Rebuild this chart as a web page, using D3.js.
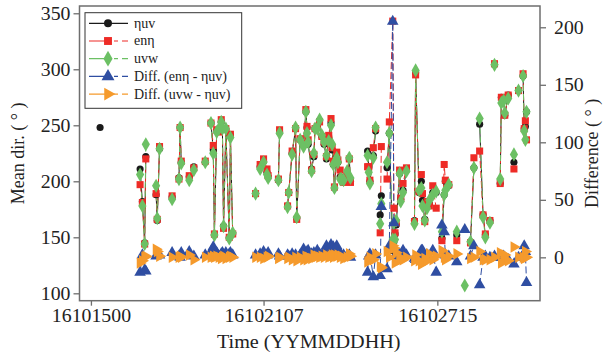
<!DOCTYPE html>
<html>
<head>
<meta charset="utf-8">
<script src="https://cdn.jsdelivr.net/npm/d3@7"></script>
<style>
  body { margin: 0; background: #fff; }
  svg text { font-family: "Liberation Serif", "Times New Roman", serif; fill: #222; }
</style>
</head>
<body>
<svg id="chart" width="612" height="356"></svg>
<script>
// time stamps (YYMMDDHH)
const times = [
  "16101508","16101619","16101621","16101623","16101700","16101709","16101710","16101712","16101723",
  "16101805","16101806","16101807","16101814","16101818",
  "16101904","16101909","16101911","16101912","16101914","16101916","16101918","16101919","16101920","16101922","16102001","16102002","16102004",
  "16102100","16102104","16102107","16102110","16102111","16102120","16102121","16102204","16102205","16102208","16102211","16102212",
  "16102215","16102218","16102220","16102221","16102222","16102301","16102303","16102304","16102306","16102308","16102310","16102312",
  "16102314","16102316","16102318","16102319","16102320","16102321","16102323","16102400","16102402","16102403","16102405","16102408","16102410","16102411",
  "16102502","16102503","16102504","16102507","16102509","16102513","16102514","16102519","16102521",
  "16102600","16102601","16102602","16102603","16102606","16102607","16102609","16102612","16102619","16102620","16102623",
  "16102701","16102702","16102704","16102706","16102708","16102711","16102714","16102719","16102721","16102722",
  "16102801","16102808","16102815","16102820","16102823",
  "16102904","16102907","16102909","16102913","16102917","16102922","16102923",
  "16103001","16103002","16103005","16103010","16103014","16103018","16103019","16103020","16103021"
];
const etaUV = [
  248, 211, 182, 145, 222, 188, 165, 229, 186,
  203, 248, 217, 204, 213,
  217, 252, 228, 152, 245, 246, 253, 247, 160, 246, 150, 241, 153,
  189, 213, 218, 208, 204, 201, 244, 178, 190, 225, 247, 167,
  237, 233, 262, 248, 233, 211, 222, 247, 248, 254, 240, 233,
  220, 238, 252, 228, 215, 194, 222, 217, 204, 202, 200, 206, 220, 200,
  227, 212, 200, 223, 245, 170, 187, 212, 243,
  138, 146, 153, 161, 207, 184, 192, 210, 165, 297, 190,
  200, 183, 166, 180, 180, 190, 190, 149, 188, 200,
  196, 152, null, 146, 212,
  251, 170, 152, 165, 304, 198, 275,
  273, 259, 277, 217, 281, 294, 247, 249, 262
];
const enEta = [
  null, 197, 181, 144, 220, 189, 166, 231, 187,
  202, 248, 218, 205, 212,
  218, 252, 232, 153, 246, 244, 255, 247, 158, 247, 150, 242, 153,
  189, 215, 220, 211, 205, 202, 246, 178, 190, 227, 247, 166,
  238, 234, 264, 249, 237, 210, 224, 247, 249, 253, 240, 235,
  222, 241, 256, 230, 218, 195, 226, 219, 210, 203, 199, 205, 220, 199,
  213, 213, 201, 230, 247, 154, 231, 202, 253,
  343, 176, 154, 163, 210, 185, 198, 212, 164, 295, 191,
  206, 189, 164, 182, 178, 196, 176, 147, 215, 201,
  197, 147, null, 145, 221,
  227, 170, 153, 165, 305, 198, 275,
  274, 259, 277, 211, 281, 296, 247, 254, 237
];
const uvw = [
  null, 206, 178, 144, 233, 196, 167, 229, 184,
  202, 248, 216, 201, 210,
  217, 252, 225, 152, 244, 247, 253, 247, 160, 247, 149, 239, 154,
  189, 211, 217, 206, 203, 201, 243, 177, 190, 224, 248, 168,
  237, 231, 262, 243, 235, 209, 225, 247, 247, 255, 241, 235,
  223, 236, 250, 233, 215, 194, 221, 217, 202, 202, 201, 209, 221, 203,
  223, 208, 198, 221, 248, 162, 180, 217, 243,
  148, 163, 148, 165, 207, 182, 190, 209, 162, 299, 192,
  194, 178, 165, 176, 183, 188, 191, 155, 188, 192,
  197, 155, 107, 146, 212,
  256, 168, 150, 163, 304, 202, 270,
  272, 261, 274, 224, 281, 294, 245, 237, 262
];
const diffEnEta = [
  null, -13, 2, -11, -12, 1, 3, 2, 4,
  1, 0, 4, 5, 1,
  2, 5, 9, 3, 4, 1, 3, 4, 2, 4, 3, 4, 2,
  2, 3, 5, 2, 4, 3, 1, 2, 1, 3, 2, 0,
  2, 7, 3, 5, 6, 3, 4, 2, 6, 3, 2, 4,
  10, 7, 11, 6, 9, 4, 10, 4, 3, 2, 2, 1, 2, 0,
  -13, 1, 3, -17, 2, -16, 44, -10, 10,
  205, 30, 1, 2, 3, 1, 6, 2, -1, -2, 1,
  6, 6, -2, 2, -2, 6, -13, 28, 22, 2,
  1, -4, 24, 1, 10,
  -24, 0, 1, 0, 1, 0, 0,
  1, 0, -2, -6, 0, 2, 10, 5, -22
];
const diffUvw = [
  null, -5, -3, 0, 1, 7, 5, 1, 0,
  0, 1, 0, 2, -2,
  0, 0, 1, 0, 1, 0, -1, 0, 1, -1, 0, 1, 0,
  0, 0, -1, 0, 1, -1, 0, -1, 0, -2, 0, -3,
  0, -2, 1, -2, 0, -1, 2, 0, 1, 0, 1, 0,
  2, 0, 1, 2, 0, 2, 1, 2, 0, 1, -1, 0, 3, 1,
  -4, -3, 0, -2, 3, -8, -9, 5, 0,
  10, 8, -5, 4, 0, -2, -2, 0, -3, 2, -3,
  -6, -5, -1, -3, 3, -2, 1, 6, 0, -2,
  1, 3, null, -1, 0,
  5, -2, -2, -2, 0, 4, -5,
  -1, 2, -3, 9, 0, 0, -1, 5, 0
];
const xTicks = ["16101500", "16102107", "16102715"];
const yTicksLeft = [100, 150, 200, 250, 300, 350];
const yTicksRight = [0, 50, 100, 150, 200];

const parse = d3.utcParse("%y%m%d%H");
const fmt = d3.utcFormat("%y%m%d%H");
const rows = times.map((t, i) => ({
  t: parse(t), a: etaUV[i], b: enEta[i], c: uvw[i], d: diffEnEta[i], e: diffUvw[i]
}));

const svg = d3.select("#chart");
const mLeft = 79.5, mRight = 540, mTop = 6, mBottom = 300.7;
const hour = 3600e3;
const t0 = parse("16101500");

const x = d3.scaleUtc()
  .domain([new Date(+t0 - 10 * hour), new Date(+t0 + 392.8 * hour)])
  .range([mLeft, mRight]);
const yL = d3.scaleLinear().domain([93.4, 356.5]).range([mBottom, mTop]);
const yR = d3.scaleLinear().domain([-37.7, 218.5]).range([mBottom, mTop]);

const series = [
  { key: "a", label: "ηuv", color: "#1a1a1a", dash: null, sym: d3.symbolCircle, size: 40, rot: 0, y: yL },
  { key: "b", label: "enη", color: "#ee2b26", dash: "7,3", sym: d3.symbolSquare, size: 50, rot: 0, y: yL },
  { key: "c", label: "uvw", color: "#6cc064", dash: "6,3", sym: d3.symbolDiamond, size: 58, rot: 0, y: yL },
  { key: "d", label: "Diff. (enη - ηuv)", color: "#2f4ea2", dash: "7,3", sym: d3.symbolTriangle, size: 58, rot: 0, y: yR },
  { key: "e", label: "Diff. (uvw - ηuv)", color: "#f59a2c", dash: "5,2,2,2", sym: d3.symbolTriangle, size: 58, rot: 90, y: yR }
];

// split into runs of points no more than 3 hours apart
function segments(key) {
  const segs = [];
  let cur = [];
  rows.forEach(r => {
    if (r[key] == null) { if (cur.length) segs.push(cur); cur = []; return; }
    if (cur.length && (r.t - cur[cur.length - 1].t) > 3 * hour) { segs.push(cur); cur = []; }
    cur.push(r);
  });
  if (cur.length) segs.push(cur);
  return segs;
}

// horizontal text in the original is a little wider than the font
function stretch(sel, k) {
  sel.each(function () {
    const w = this.getComputedTextLength();
    this.setAttribute("textLength", w * k);
    this.setAttribute("lengthAdjust", "spacingAndGlyphs");
  });
}

const plot = svg.append("g");

series.forEach(s => {
  const line = d3.line().x(r => x(r.t)).y(r => s.y(r[s.key]));
  plot.append("g").selectAll("path")
    .data(segments(s.key).filter(g => g.length > 1))
    .enter().append("path")
    .attr("d", line)
    .attr("fill", "none")
    .attr("stroke", s.color)
    .attr("stroke-width", 1)
    .attr("stroke-dasharray", s.dash);
});

series.forEach(s => {
  const sym = d3.symbol().type(s.sym).size(s.size);
  plot.append("g").selectAll("path")
    .data(rows.filter(r => r[s.key] != null))
    .enter().append("path")
    .attr("d", sym)
    .attr("transform", r => `translate(${x(r.t)},${s.y(r[s.key])}) rotate(${s.rot})`)
    .attr("fill", s.color);
});

// axes
const axisColor = "#6e6e6e";
function styleAxis(g) {
  g.select(".domain").remove();
  g.selectAll(".tick line").attr("stroke", axisColor).attr("stroke-width", 1.3);
  g.selectAll(".tick text").attr("font-size", 18).attr("fill", "#222");
  stretch(g.selectAll(".tick text"), 1.1);
}
svg.append("g")
  .attr("transform", `translate(${mLeft},0)`)
  .call(d3.axisLeft(yL).tickValues(yTicksLeft).tickSize(6).tickPadding(3))
  .call(styleAxis);
svg.append("g")
  .attr("transform", `translate(${mRight},0)`)
  .call(d3.axisRight(yR).tickValues(yTicksRight).tickSize(6).tickPadding(8))
  .call(styleAxis);
svg.append("g")
  .attr("transform", `translate(0,${mBottom})`)
  .call(d3.axisBottom(x).tickValues(xTicks.map(parse)).tickFormat(fmt).tickSize(5).tickPadding(4))
  .call(styleAxis);

svg.append("rect")
  .attr("x", mLeft).attr("y", mTop)
  .attr("width", mRight - mLeft).attr("height", mBottom - mTop)
  .attr("fill", "none").attr("stroke", axisColor).attr("stroke-width", 1.5);

// axis titles
svg.append("text")
  .attr("transform", `translate(24,${(mTop + mBottom) / 2}) rotate(-90)`)
  .attr("text-anchor", "middle").attr("font-size", 18)
  .text("Mean dir. ( ° )");
svg.append("text")
  .attr("transform", `translate(598,${(mTop + mBottom) / 2}) rotate(-90)`)
  .attr("text-anchor", "middle").attr("font-size", 18)
  .text("Difference ( ° )");
svg.append("text")
  .attr("x", (mLeft + mRight) / 2 - 1).attr("y", 348)
  .attr("text-anchor", "middle").attr("font-size", 18)
  .text("Time (YYMMDDHH)")
  .call(stretch, 1.12);

// legend
const lg = svg.append("g").attr("transform", "translate(85,12.7)");
lg.append("rect")
  .attr("width", 156.7).attr("height", 95.6)
  .attr("fill", "#fff").attr("stroke", "#333").attr("stroke-width", 1);
series.forEach((s, i) => {
  const yy = 10.6 + i * 17.7;
  lg.append("line")
    .attr("x1", 4).attr("x2", 43).attr("y1", yy).attr("y2", yy)
    .attr("stroke", s.color).attr("stroke-width", 1.2)
    .attr("stroke-dasharray", s.dash ? "21,4,4,4" : null);
  lg.append("path")
    .attr("d", d3.symbol().type(s.sym).size(s.size * 1.25))
    .attr("transform", `translate(23,${yy}) rotate(${s.rot})`)
    .attr("fill", s.color);
  lg.append("text")
    .attr("x", 49).attr("y", yy + 4.5)
    .attr("font-size", 14)
    .text(s.label);
});
</script>
</body>
</html>
